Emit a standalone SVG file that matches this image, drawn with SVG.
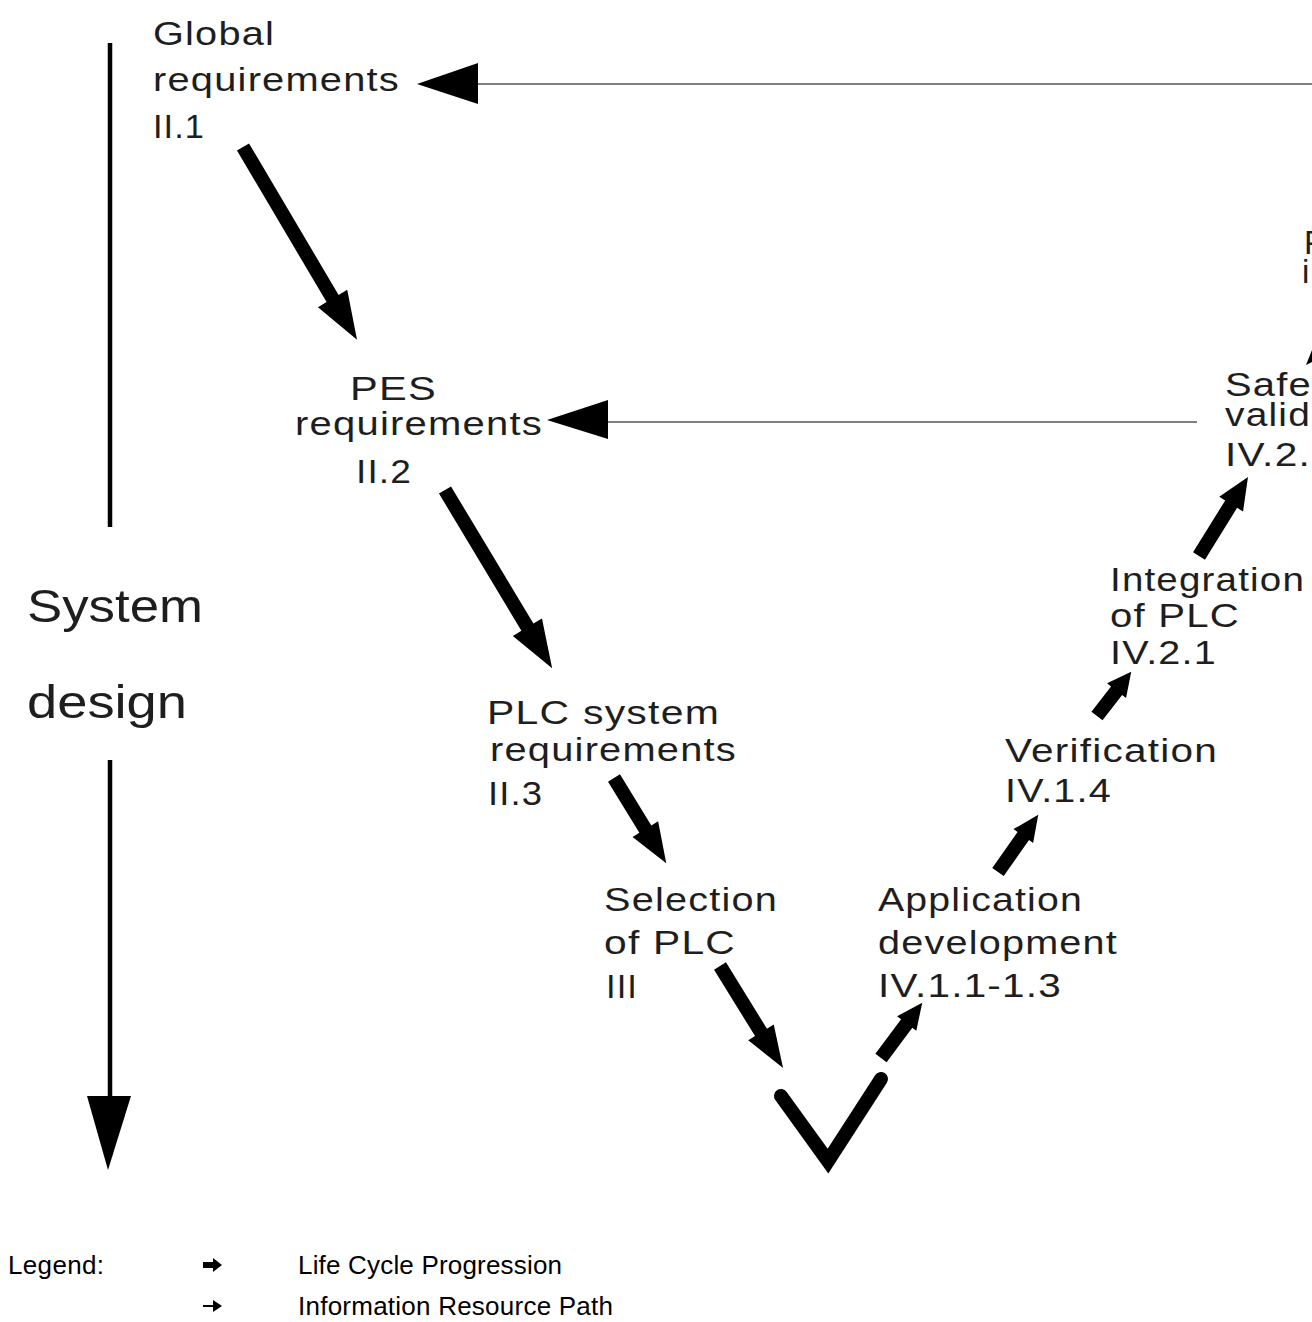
<svg xmlns="http://www.w3.org/2000/svg" width="1312" height="1322" viewBox="0 0 1312 1322">
<style>
.t{font-family:"Liberation Sans",Arial,sans-serif;font-size:33px;fill:#1e1e1e;letter-spacing:1px}
.big{font-family:"Liberation Sans",Arial,sans-serif;font-size:47px;fill:#1e1e1e}
.lg{font-family:"Liberation Sans",Arial,sans-serif;font-size:26px;fill:#000}
.thick{fill:#000}
.thin{stroke:#555;stroke-width:1.6;fill:none}
</style>
<rect width="1312" height="1322" fill="#fff"/>
<g id="axis">
<line x1="110" y1="43" x2="110" y2="527" stroke="#000" stroke-width="4.5"/>
<line x1="110" y1="760" x2="110" y2="1100" stroke="#000" stroke-width="4.5"/>
<polygon points="87,1096 131,1096 108,1170" fill="#000"/>
<text class="big" x="27" y="622" textLength="176" lengthAdjust="spacingAndGlyphs">System</text>
<text class="big" x="27" y="718" textLength="160" lengthAdjust="spacingAndGlyphs">design</text>
</g>
<g id="n-global"><text class="t"><tspan x="153" y="45" textLength="122" lengthAdjust="spacingAndGlyphs">Global</tspan><tspan x="153" y="91" textLength="247" lengthAdjust="spacingAndGlyphs">requirements</tspan><tspan x="153" y="138" textLength="52" lengthAdjust="spacingAndGlyphs">II.1</tspan></text></g>
<g id="n-pes"><text class="t"><tspan x="350" y="400" textLength="87" lengthAdjust="spacingAndGlyphs">PES</tspan><tspan x="295" y="435" textLength="248" lengthAdjust="spacingAndGlyphs">requirements</tspan><tspan x="356" y="483" textLength="56" lengthAdjust="spacingAndGlyphs">II.2</tspan></text></g>
<g id="n-plcsys"><text class="t"><tspan x="487" y="724" textLength="233" lengthAdjust="spacingAndGlyphs">PLC system</tspan><tspan x="490" y="761" textLength="247" lengthAdjust="spacingAndGlyphs">requirements</tspan><tspan x="488" y="805" textLength="55" lengthAdjust="spacingAndGlyphs">II.3</tspan></text></g>
<g id="n-select"><text class="t"><tspan x="604" y="911" textLength="174" lengthAdjust="spacingAndGlyphs">Selection</tspan><tspan x="604" y="954" textLength="132" lengthAdjust="spacingAndGlyphs">of PLC</tspan><tspan x="606" y="998" textLength="32" lengthAdjust="spacingAndGlyphs">III</tspan></text></g>
<g id="n-app"><text class="t"><tspan x="878" y="911" textLength="205" lengthAdjust="spacingAndGlyphs">Application</tspan><tspan x="878" y="954" textLength="240" lengthAdjust="spacingAndGlyphs">development</tspan><tspan x="878" y="997" textLength="184" lengthAdjust="spacingAndGlyphs">IV.1.1-1.3</tspan></text></g>
<g id="n-verif"><text class="t"><tspan x="1005" y="762" textLength="213" lengthAdjust="spacingAndGlyphs">Verification</tspan><tspan x="1005" y="802" textLength="107" lengthAdjust="spacingAndGlyphs">IV.1.4</tspan></text></g>
<g id="n-integ"><text class="t"><tspan x="1110" y="591" textLength="195" lengthAdjust="spacingAndGlyphs">Integration</tspan><tspan x="1110" y="627" textLength="130" lengthAdjust="spacingAndGlyphs">of PLC</tspan><tspan x="1110" y="664" textLength="107" lengthAdjust="spacingAndGlyphs">IV.2.1</tspan></text></g>
<g id="n-safety"><text class="t"><tspan x="1225" y="396" textLength="87" lengthAdjust="spacingAndGlyphs">Safe</tspan><tspan x="1225" y="426" textLength="86" lengthAdjust="spacingAndGlyphs">valid</tspan><tspan x="1225" y="466" textLength="86" lengthAdjust="spacingAndGlyphs">IV.2.</tspan></text></g>
<g id="n-top-right"><text class="t" font-size="30" x="1304" y="254">P</text><text class="t" font-size="30" x="1302" y="283">i</text></g>
<g id="connectors">
<line class="thin" x1="478" y1="84" x2="1312" y2="84"/>
<polygon points="417,84 478,63 478,104" fill="#000"/>
<line class="thin" x1="608" y1="422" x2="1197" y2="422"/>
<polygon points="547,420 608,400 608,439" fill="#000"/>
<polygon class="thick" transform="translate(243,147) rotate(59.4)" points="0,-7 176,-7 176,-17 224,0 176,17 176,7 0,7"/>
<polygon class="thick" transform="translate(445,490) rotate(59)" points="0,-7 160,-7 160,-17 208,0 160,17 160,7 0,7"/>
<polygon class="thick" transform="translate(614,778) rotate(58.5)" points="0,-7 60,-7 60,-15 100,0 60,15 60,7 0,7"/>
<polygon class="thick" transform="translate(720,966) rotate(58.3)" points="0,-7 78,-7 78,-15 120,0 78,15 78,7 0,7"/>
<polygon class="thick" transform="translate(881,1058) rotate(-53.3)" points="0,-7 43,-7 43,-12 69,0 43,12 43,7 0,7"/>
<polygon class="thick" transform="translate(998,872) rotate(-54.9)" points="0,-7 44,-7 44,-12 70,0 44,12 44,7 0,7"/>
<polygon class="thick" transform="translate(1097,716) rotate(-52.3)" points="0,-7 32,-7 32,-12 56,0 32,12 32,7 0,7"/>
<polygon class="thick" transform="translate(1199,556) rotate(-58.2)" points="0,-7 61,-7 61,-14 93,0 61,14 61,7 0,7"/>
<polygon class="thick" points="1306,365 1316,360 1312,350"/>
<polyline points="781,1096 828,1161 881,1079" fill="none" stroke="#000" stroke-width="14" stroke-linecap="round" stroke-linejoin="miter"/>
</g>
<g id="legend">
<text class="lg" x="8" y="1274" textLength="96">Legend:</text>
<polygon points="203,1262 213,1262 213,1258 222,1265 213,1272 213,1268 203,1268" fill="#000"/>
<text class="lg" x="298" y="1274" textLength="264">Life Cycle Progression</text>
<line x1="203" y1="1306" x2="215" y2="1306" stroke="#000" stroke-width="2"/>
<polygon points="213,1300 222,1306 213,1312" fill="#000"/>
<text class="lg" x="298" y="1315" textLength="315">Information Resource Path</text>
</g>
</svg>
